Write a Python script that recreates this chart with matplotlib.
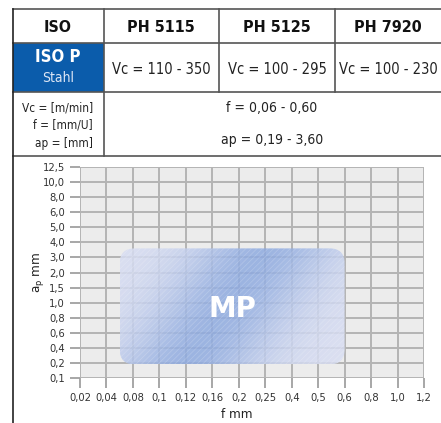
import numpy as np
import matplotlib
matplotlib.use('Agg')
import matplotlib.pyplot as plt
from matplotlib import font_manager
from matplotlib.patches import FancyBboxPatch, Rectangle

# pick a narrow face if one is there
narrow = [(f.name, f.stretch) for f in font_manager.fontManager.ttflist
          if 'Narrow' in f.name or 'Condensed' in f.name
          or str(f.stretch) in ('condensed', 'semi-condensed', 'extra-condensed')]
if narrow:
    plt.rcParams['font.family'] = [narrow[0][0], 'DejaVu Sans']
    plt.rcParams['font.stretch'] = narrow[0][1]
else:
    plt.rcParams['font.family'] = ['DejaVu Sans']
    plt.rcParams['font.stretch'] = 'condensed'

# table content
header = ['ISO', 'PH 5115', 'PH 5125', 'PH 7920']
vc_ranges = ['Vc = 110 - 350', 'Vc = 100 - 295', 'Vc = 100 - 230']
units = ['Vc = [m/min]', 'f = [mm/U]', 'ap = [mm]']
f_text = 'f = 0,06 - 0,60'
ap_text = 'ap = 0,19 - 3,60'

# chart axes (categorical)
f_vals = [0.02, 0.04, 0.08, 0.1, 0.12, 0.16, 0.2, 0.25, 0.4, 0.5, 0.6, 0.8, 1.0, 1.2]
f_labels = ['0,02', '0,04', '0,08', '0,1', '0,12', '0,16', '0,2', '0,25', '0,4', '0,5', '0,6', '0,8', '1,0', '1,2']
ap_vals = [0.1, 0.2, 0.4, 0.6, 0.8, 1.0, 1.5, 2.0, 3.0, 4.0, 5.0, 6.0, 8.0, 10.0, 12.5]
ap_labels = ['0,1', '0,2', '0,4', '0,6', '0,8', '1,0', '1,5', '2,0', '3,0', '4,0', '5,0', '6,0', '8,0', '10,0', '12,5']

# MP region
f_range = [0.06, 0.60]
ap_range = [0.19, 3.60]

W, H = 441, 423
fig = plt.figure(figsize=(W / 100, H / 100), dpi=100)
fig.patch.set_facecolor('white')

# background axes in pixel coordinates for the table
ax0 = fig.add_axes([0, 0, 1, 1])
ax0.set_xlim(0, W)
ax0.set_ylim(H, 0)
ax0.axis('off')

lc = '#555555'
lw = 1.2
ax0.add_patch(Rectangle((13, 43), 91, 49, facecolor='#0b5cab', edgecolor='none'))
ax0.plot([13, W], [9, 9], color=lc, lw=lw)
ax0.plot([13, W], [43, 43], color=lc, lw=lw)
ax0.plot([13, W], [92, 92], color=lc, lw=lw)
ax0.plot([13, W], [156, 156], color=lc, lw=lw)
ax0.plot([13, 13], [9, H], color='#222222', lw=lw)
ax0.plot([104, 104], [9, 156], color=lc, lw=lw)
ax0.plot([219, 219], [9, 92], color=lc, lw=lw)
ax0.plot([335, 335], [9, 92], color=lc, lw=lw)

col_centers = [58, 161, 277, 388]
for x, t in zip(col_centers, header):
    ax0.text(x, 27, t, ha='center', va='center', fontsize=11.5, fontweight='bold', color='#111111')
ax0.text(58, 57, 'ISO P', ha='center', va='center', fontsize=12, fontweight='bold', color='white')
ax0.text(58, 78, 'Stahl', ha='center', va='center', fontsize=10, color='#dde6f5')
for x, t in zip(col_centers[1:], vc_ranges):
    ax0.text(x, 69, t, ha='center', va='center', fontsize=10.5, color='#222222')

for y, t in zip([108, 125, 144], units):
    ax0.text(93, y, t, ha='right', va='center', fontsize=8.5, color='#222222')
ax0.text(272, 108, f_text, ha='center', va='center', fontsize=10, color='#222222')
ax0.text(272, 140, ap_text, ha='center', va='center', fontsize=10, color='#222222')

ax0.text(38, 272, 'a$_\\mathregular{p}$ mm', rotation=90, ha='center', va='center',
         fontsize=9.5, color='#222222')
ax0.text(237, 415, 'f mm', ha='center', va='center', fontsize=9.5, color='#222222')

# chart
ax = fig.add_axes([80 / W, (H - 378) / H, 344 / W, 211 / H])
ax.set_facecolor('#ececec')
xi = np.arange(len(f_vals))
yi = np.arange(len(ap_vals))
ax.set_xlim(0, len(f_vals) - 1)
ax.set_ylim(0, len(ap_vals) - 1)
ax.set_xticks(xi)
ax.set_xticklabels(f_labels)
ax.set_yticks(yi)
ax.set_yticklabels(ap_labels)
ax.grid(True, color='#b4b4b4', lw=1.4)
ax.set_axisbelow(True)
for s in ax.spines.values():
    s.set_visible(False)
ax.tick_params(axis='both', length=7, width=1.3, color='#a0a0a0', labelsize=8,
               labelcolor='#333333', pad=4)

x0 = np.interp(f_range[0], f_vals, xi)
x1 = np.interp(f_range[1], f_vals, xi)
y0 = np.interp(ap_range[0], ap_vals, yi)
y1 = np.interp(ap_range[1], ap_vals, yi)

px_x = 344 / (len(f_vals) - 1)
px_y = 211 / (len(ap_vals) - 1)
r = 15 / px_x
box = FancyBboxPatch((x0, y0), x1 - x0, y1 - y0,
                     boxstyle='round,pad=0,rounding_size=%f' % r,
                     mutation_aspect=px_x / px_y,
                     facecolor='none', edgecolor='none', zorder=2)
ax.add_patch(box)

# diagonal gradient for the MP field
u = np.linspace(0, 1, 300)
v = np.linspace(0, 1, 150)
U, V = np.meshgrid(u, v)
uc = 0.3 + 0.35 * V
t = np.exp(-((U - uc) / 0.32) ** 2)
light = np.array([0.85, 0.87, 0.95])
dark = np.array([0.56, 0.67, 0.88])
img = light[None, None, :] + t[..., None] * (dark - light)[None, None, :]
im = ax.imshow(img, extent=[x0, x1, y0, y1], origin='lower', aspect='auto',
               alpha=0.85, zorder=2, interpolation='bilinear')
im.set_clip_path(box)

plt.rcParams['hatch.linewidth'] = 0.6
hatch = FancyBboxPatch((x0, y0), x1 - x0, y1 - y0,
                       boxstyle='round,pad=0,rounding_size=%f' % r,
                       mutation_aspect=px_x / px_y,
                       facecolor='none', edgecolor=(1, 1, 1, 0.18), lw=0,
                       hatch='//////', zorder=3)
ax.add_patch(hatch)

ax.text((x0 + x1) / 2, (y0 + y1) / 2 - 0.2, 'MP', ha='center', va='center',
        fontsize=20, fontweight='bold', color='white', family='DejaVu Sans',
        fontstretch='normal', zorder=4)

fig.savefig('out.png', dpi=100)
